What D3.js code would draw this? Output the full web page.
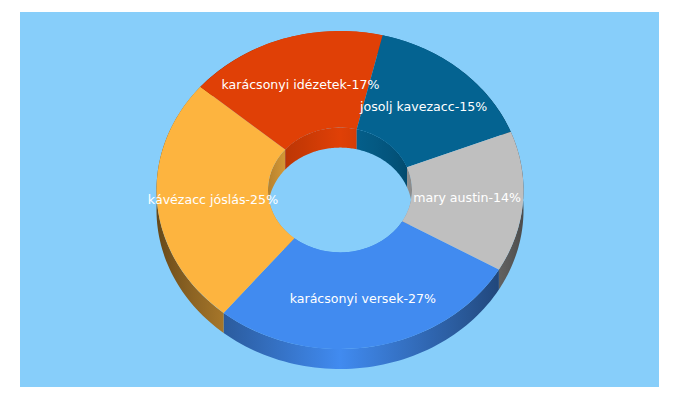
<!DOCTYPE html>
<html>
<head>
<meta charset="utf-8">
<script src="https://d3js.org/d3.v7.min.js"></script>
<style>
    html, body { margin: 0; padding: 0; background: #fff; }
    svg { display: block; }
    .slice-label { font-family: "DejaVu Sans", sans-serif; font-size: 12.6px; fill: #fff; text-anchor: middle; }
</style>
</head>
<body>
<div id="chart"></div>
<script>
// Keywords, clockwise from the blue/grey seam
const categories = ['karácsonyi versek', 'kávézacc jóslás', 'karácsonyi idézetek', 'josolj kavezacc', 'mary austin'];
const shares = [27.6, 25.3, 17.5, 15.3, 14.3];
const shownPercent = [27, 25, 17, 15, 14];
const sliceColors = ['#418bf0', '#fdb43f', '#e04006', '#046391', '#bfbfbf'];

const WIDTH = 680, HEIGHT = 400;
const PANEL = { x: 20, y: 12, w: 639, h: 375, fill: '#87cefa' };
const CX = 340, CY = 190;
const RX = 183.5, RY = 159, RX_INNER = 72;
const RY_INNER = RX_INNER * RY / RX;
const DEPTH = 20;
const START_ANGLE = 120 * Math.PI / 180; // d3 angles: 0 at 12 o'clock
const LABEL_RING = 0.695;

// Wall shading: brightness against distance from the vertical axis
const outerShade = d3.scaleLinear().domain([0, 0.63, 0.86, 1]).range([1, 0.66, 0.52, 0.4]);
const innerShade = d3.scaleLinear().domain([0, 0.76, 1]).range([1, 0.84, 0.72]);

const svg = d3.select('#chart').append('svg')
    .attr('width', WIDTH)
    .attr('height', HEIGHT);

svg.append('rect')
    .attr('x', PANEL.x).attr('y', PANEL.y)
    .attr('width', PANEL.w).attr('height', PANEL.h)
    .attr('fill', PANEL.fill);

const slices = d3.pie()
    .sort(null)
    .startAngle(START_ANGLE)
    .endAngle(START_ANGLE + 2 * Math.PI)(shares);

const defs = svg.append('defs');

function addGradient(id, color, shade, rx) {
    const grad = defs.append('linearGradient')
        .attr('id', id)
        .attr('gradientUnits', 'userSpaceOnUse')
        .attr('x1', CX - rx).attr('x2', CX + rx)
        .attr('y1', 0).attr('y2', 0);
    d3.range(0, 1.001, 0.05).forEach(t => {
        const k = shade(Math.abs(2 * t - 1));
        const c = d3.rgb(color);
        grad.append('stop')
            .attr('offset', t)
            .attr('stop-color', d3.rgb(c.r * k, c.g * k, c.b * k).formatHex());
    });
}

// Band between an ellipse arc and the same arc pushed down by DEPTH
function wallPath(d, rx, ry) {
    const steps = d3.range(0, 61).map(i => d.startAngle + (d.endAngle - d.startAngle) * i / 60);
    const top = steps.map(a => [CX + rx * Math.sin(a), CY - ry * Math.cos(a)]);
    const bottom = steps.slice().reverse().map(a => [CX + rx * Math.sin(a), CY - ry * Math.cos(a) + DEPTH]);
    return d3.line()(top.concat(bottom)) + 'Z';
}

// The top face hides whatever part of a wall should not show
function wallLayer(name, rx, ry, shade) {
    sliceColors.forEach((c, i) => addGradient(`${name}-${i}`, c, shade, rx));
    svg.append('g').selectAll('path')
        .data(slices)
        .join('path')
        .attr('d', d => wallPath(d, rx, ry))
        .attr('fill', (d, i) => `url(#${name}-${i})`);
}

wallLayer('inner', RX_INNER, RY_INNER, innerShade);
wallLayer('outer', RX, RY, outerShade);

// Top face: circular ring squashed into an ellipse
const arc = d3.arc().innerRadius(RX_INNER).outerRadius(RX);

svg.append('g')
    .attr('transform', `translate(${CX},${CY}) scale(1,${RY / RX})`)
    .selectAll('path')
    .data(slices)
    .join('path')
    .attr('d', arc)
    .attr('fill', (d, i) => sliceColors[i]);

// Labels sit on the mid-ring of each slice
svg.append('g').selectAll('text')
    .data(slices)
    .join('text')
    .attr('class', 'slice-label')
    .attr('x', d => CX + RX * LABEL_RING * Math.sin((d.startAngle + d.endAngle) / 2))
    .attr('y', d => CY - RY * LABEL_RING * Math.cos((d.startAngle + d.endAngle) / 2) + 4)
    .text((d, i) => `${categories[i]}-${shownPercent[i]}%`);
</script>
</body>
</html>
